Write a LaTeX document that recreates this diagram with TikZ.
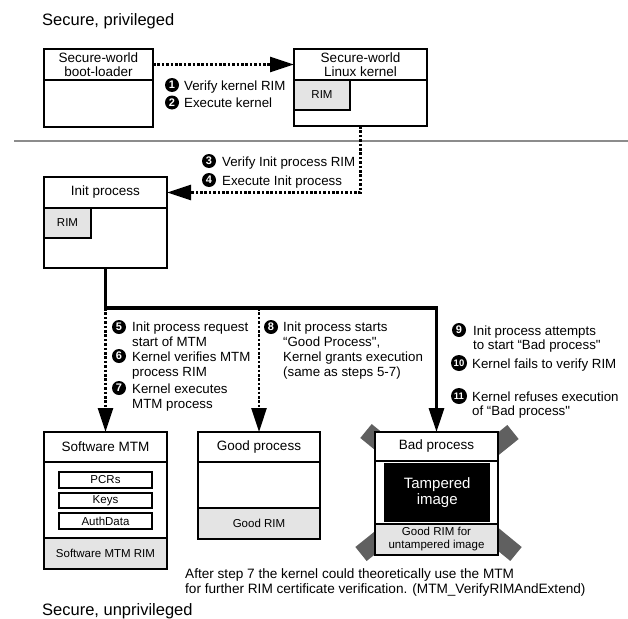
\documentclass[tikz,border=0pt]{standalone}
\usepackage{fontspec}
\setmainfont{Liberation Sans}[Ligatures=TeXOff]
\usetikzlibrary{arrows.meta}
\definecolor{rimgray}{HTML}{E4E4E4}
\definecolor{rulegray}{HTML}{8C8C8C}
\definecolor{crossgray}{HTML}{606060}
\newcommand{\fsz}[2]{\fontsize{#1}{#2}\selectfont}

\begin{document}
\begin{tikzpicture}[x=1pt,y=-1pt,
  frame/.style={draw=black, line width=1.8pt, fill=white, anchor=north west,
                inner sep=0pt, outer sep=0pt},
  rimbox/.style={frame, fill=rimgray},
  hdr/.style={font=\fsz{13.5}{13.5}, align=center},
  small/.style={font=\fsz{11.5}{13}, align=center},
  % multi-line labels are placed by the baseline of their last line
  lbl/.style={anchor=base west, font=\fsz{13.3}{15}, align=left, inner sep=0pt},
  num/.style={circle, fill=black, text=white, inner sep=0pt, minimum size=14pt,
              font=\fsz{11}{11}\bfseries},
  numw/.style={num, minimum size=16pt, font=\fsz{9.5}{10}\bfseries},
  dotline/.style={line width=2.8pt, dash pattern=on 2.6pt off 1.8pt},
  headtip/.style={-{Triangle[length=24pt,width=15pt]}},
  busline/.style={line width=3.2pt},
]
\useasboundingbox (0,0) rectangle (628,618);

% region titles and the boundary between them
\node[anchor=base west, inner sep=0pt, font=\fsz{16.5}{18}] (privT) at (42,26) {Secure, privileged};
\node[anchor=base west, inner sep=0pt, font=\fsz{16.5}{18}] (unprivT) at (42,615) {Secure, unprivileged};
\draw[rulegray, line width=2.5pt] (14,141) -- (628,141);

% secure-world boot-loader
\node[frame, minimum width=109pt, minimum height=47pt] (bootB) at (44,80) {};
\node[frame, hdr, minimum width=109pt, minimum height=31pt] (bootH) at (44,49) {Secure-world\\boot-loader};

% secure-world kernel
\node[frame, minimum width=133pt, minimum height=46pt] (kernB) at (294,80) {};
\node[frame, hdr, minimum width=133pt, minimum height=31pt] (kernH) at (294,49) {Secure-world\\Linux kernel};
\node[rimbox, small, minimum width=56pt, minimum height=30pt] (kernRIM) at (294,80) {RIM};

% init process
\node[frame, minimum width=123pt, minimum height=60pt] (initB) at (44,208) {};
\node[frame, hdr, minimum width=123pt, minimum height=31pt] (initH) at (44,177) {Init process};
\node[rimbox, small, minimum width=47pt, minimum height=30pt] (initRIM) at (44,208) {RIM};

% software MTM
\node[frame, minimum width=123pt, minimum height=76pt] (mtmB) at (44,462) {};
\node[frame, hdr, minimum width=123pt, minimum height=30pt] (mtmH) at (44,432) {Software MTM};
\node[rimbox, small, minimum width=123pt, minimum height=31pt] (mtmRIM) at (44,538) {Software MTM RIM};
\node[frame, small, line width=2.2pt, minimum width=93pt, minimum height=16pt] (pcr) at (59,472) {PCRs};
\node[frame, small, line width=2.2pt, minimum width=93pt, minimum height=15pt] (keys) at (59,493) {Keys};
\node[frame, small, line width=2.2pt, minimum width=93pt, minimum height=16pt] (auth) at (59,513) {AuthData};

% good process
\node[frame, minimum width=122pt, minimum height=46pt] (goodB) at (198,462) {};
\node[frame, hdr, minimum width=122pt, minimum height=30pt] (goodH) at (198,432) {Good process};
\node[rimbox, small, minimum width=122pt, minimum height=31pt] (goodRIM) at (198,508) {Good RIM};

% bad process, crossed out
\draw[crossgray, line width=18pt] (366,431) -- (516,554);
\draw[crossgray, line width=18pt] (513,432) -- (361,554);
\node[frame, minimum width=123pt, minimum height=63pt] (badB) at (375,461) {};
\node[frame, hdr, minimum width=123pt, minimum height=29pt] (badH) at (375,432) {Bad process};
\node[anchor=north west, fill=black, text=white, minimum width=106pt, minimum height=59pt,
      inner sep=0pt, font=\fsz{15}{16.5}, align=center] (tamper) at (384,463) {Tampered\\image};
\node[rimbox, font=\fsz{11.5}{13}, align=center, minimum width=123pt, minimum height=31pt] (badRIM) at (375,524)
  {Good RIM for\\untampered image};

% connectors
\coordinate (busY) at (0,308);
\coordinate (forkA) at (initB.south |- busY);
\coordinate (forkB) at (goodH.north |- busY);
\draw[dotline, headtip] (bootH.east) -- (kernH.west);
\draw[dotline, headtip] (kernB.south) |- (initH.east);
\draw[dotline, headtip] (forkA) -- (mtmH.north);
\draw[dotline, headtip] (forkB) -- (goodH.north);
\draw[busline, headtip] (initB.south) -- (forkA) -| (badH.north);

% step labels
\node[num] (n1) at (172,85) {1};
\node[lbl] (t1) at (184,90) {Verify kernel RIM};
\node[num] (n2) at (172,102.5) {2};
\node[lbl] (t2) at (184,107.5) {Execute kernel};

\node[num] (n3) at (209,161) {3};
\node[lbl] (t3) at (222,166) {Verify Init process RIM};
\node[num] (n4) at (209,180) {4};
\node[lbl] (t4) at (222,185) {Execute Init process};

\node[num] (n5) at (119,327) {5};
\node[lbl] (t5) at (132,346) {Init process request\\start of MTM};
\node[num] (n6) at (119,356) {6};
\node[lbl] (t6) at (132,376) {Kernel verifies MTM\\process RIM};
\node[num] (n7) at (119,388) {7};
\node[lbl] (t7) at (132,408) {Kernel executes\\MTM process};

\node[num] (n8) at (271,327) {8};
\node[lbl] (t8) at (283,376) {Init process starts\\“Good Process",\\Kernel grants execution\\(same as steps 5-7)};

\node[num] (n9) at (459,330) {9};
\node[lbl, font=\fsz{13.3}{14}] (t9) at (473,349) {Init process attempts\\to start “Bad process"};
\node[numw] (n10) at (459,363) {10};
\node[lbl] (t10) at (472,368) {Kernel fails to verify RIM};
\node[numw] (n11) at (459,396) {11};
\node[lbl, font=\fsz{13.3}{14}] (t11) at (472,415) {Kernel refuses execution\\of “Bad process"};

% closing remark
\node[lbl, font=\fsz{13.6}{15}] (note) at (185,593) {After step 7 the kernel could theoretically use the MTM\\for further RIM certificate verification. (MTM\_VerifyRIMAndExtend)};
\end{tikzpicture}
\end{document}
